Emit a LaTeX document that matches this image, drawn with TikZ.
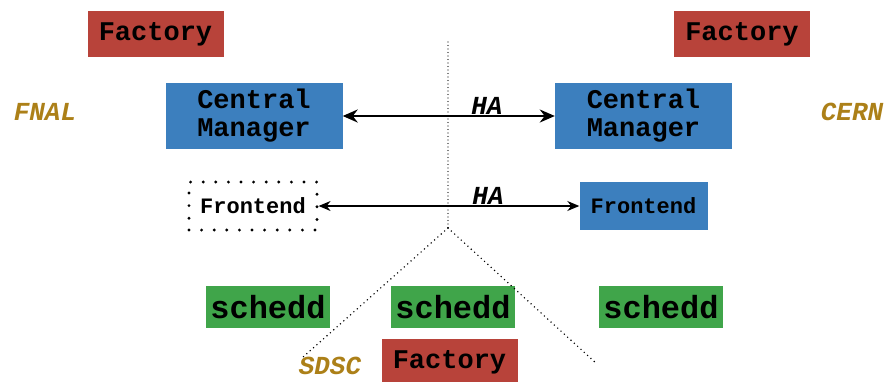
\documentclass[tikz,border=0pt]{standalone}
\usepackage{fontspec}
\setmonofont{Liberation Mono}
\usetikzlibrary{arrows.meta}

\definecolor{factoryred}{RGB}{184,67,58}
\definecolor{cmblue}{RGB}{60,127,190}
\definecolor{scheddgreen}{RGB}{64,165,74}
\definecolor{sitegold}{RGB}{172,128,24}

\tikzset{
  box/.style={inner sep=0pt, text=black, font=\ttfamily\bfseries},
  factory/.style={box, fill=factoryred, minimum width=136pt, minimum height=46pt, font=\ttfamily\bfseries\fontsize{27}{29}\selectfont},
  manager/.style={box, fill=cmblue, minimum width=177pt, minimum height=66pt, align=center, font=\ttfamily\bfseries\fontsize{27}{28}\selectfont},
  frontend/.style={box, minimum width=128pt, minimum height=48pt, font=\ttfamily\bfseries\fontsize{22}{24}\selectfont},
  schedd/.style={box, fill=scheddgreen, minimum width=124pt, minimum height=42pt, font=\ttfamily\bfseries\fontsize{32}{34}\selectfont},
  site/.style={text=sitegold, inner sep=1pt, font=\ttfamily\bfseries\itshape\fontsize{26}{28}\selectfont},
  halabel/.style={font=\ttfamily\bfseries\itshape\fontsize{26}{28}\selectfont},
  border/.style={line width=1.6pt, line cap=round, dash pattern=on 0pt off 4.5pt}
}

\begin{document}
\begin{tikzpicture}[x=1pt, y=-1pt]
\useasboundingbox (0,0) rectangle (887,381);
% sites
\node[site] (fnal) at (45,112) {FNAL};
\node[site] (cern) at (852,112) {CERN};
\node[site] (sdsc) at (330,366) {SDSC};
% factories
\node[factory] (fac1) at (155.5,34) {Factory};
\node[factory] (fac2) at (742,34) {Factory};
\node[factory] (fac3) at (449.5,362) {Factory};
% central managers
\node[manager] (cm1) at (254,116) {Central\\Manager};
\node[manager] (cm2) at (643.5,116) {Central\\Manager};
% frontends
\node[frontend, draw, line width=3.2pt, line cap=round, dash pattern=on 0pt off 12.6pt] (fe1) at (253,206) {Frontend};
\node[frontend, fill=cmblue] (fe2) at (643.5,206) {Frontend};
% schedds
\node[schedd] (sch1) at (268,307) {schedd};
\node[schedd] (sch2) at (453,307) {schedd};
\node[schedd] (sch3) at (661,307) {schedd};
% borders between sites
\coordinate (top) at (448,42);
\coordinate (apex) at (448,228);
\coordinate (endl) at (302,358);
\coordinate (endr) at (597,364);
\draw[border, dash pattern=on 0pt off 3.5pt, line width=1.3pt] (top) -- (apex);
\draw[border] (apex) -- (endl);
\draw[border] (apex) -- (endr);
% HA links
\draw[{Stealth[length=15pt,width=13pt]}-{Stealth[length=15pt,width=13pt]}, line width=2.2pt] (cm1) -- node[halabel, pos=0.68, above=-3pt] (ha1) {HA} (cm2);
\draw[{Stealth[length=12pt,width=10pt]}-{Stealth[length=12pt,width=10pt]}, line width=1.1pt] (fe1.east) -- node[halabel, pos=0.65, above=-2pt] (ha2) {HA} (fe2.west);
\end{tikzpicture}
\end{document}
